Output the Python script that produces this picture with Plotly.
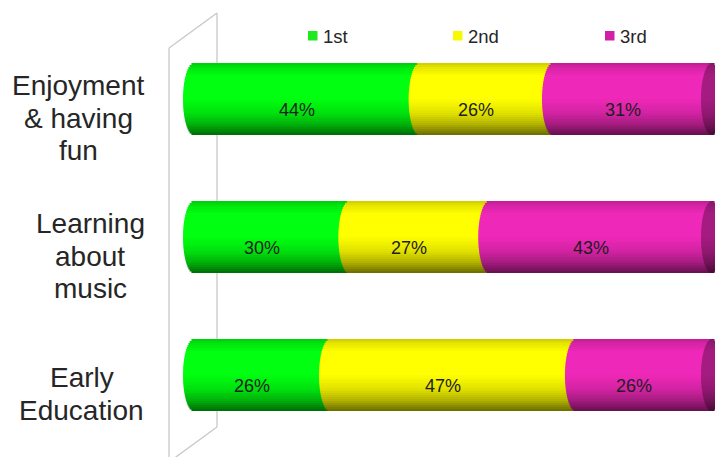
import numpy as np
import plotly.graph_objects as go

# ---------------- data ----------------
categories = ["Enjoyment & having fun", "Learning about music", "Early Education"]
label_lines = [["Enjoyment", "& having", "fun"], ["Learning", "about", "music"], ["Early", "Education"]]
series_names = ["1st", "2nd", "3rd"]
first = [44, 30, 26]
second = [26, 27, 47]
third = [31, 43, 26]

# ---------------- layout constants ----------------
W, H = 715, 457
X0_PX, X100_PX = 194, 712
PX_PER = (X100_PX - X0_PX) / 100.0
XR = [-X0_PX / PX_PER, 100 + (W - X100_PX) / PX_PER]
ROW_PX, TOP_CENTER = 138, 99
YR = [2 + (H - (TOP_CENTER + 2 * ROW_PX)) / ROW_PX, -TOP_CENTER / ROW_PX]
BAR_W = 72 / ROW_PX
BULGE = 11 / PX_PER
N = 36
FONT = "Liberation Sans, Arial, sans-serif"

base_cols = [(0, 255, 16), (255, 255, 0), (238, 40, 184)]
cap_col = (165, 28, 128)
legend_cols = ["#1ee81e", "#f8f800", "#d020a8"]

t_pts = [0, 0.06, 0.18, 0.5, 0.7, 0.85, 1.0]
f_pts = [0.80, 0.9, 1.0, 1.0, 0.88, 0.7, 0.42]


def shade(c, t):
    f = float(np.interp(t, t_pts, f_pts))
    return "rgb(%d,%d,%d)" % tuple(min(255, int(v * f)) for v in c)


series = [first, second, third]
totals = [sum(s[i] for s in series) for i in range(len(categories))]
norm = [[s[i] / totals[i] * 100 for i in range(len(categories))] for s in series]
starts = []
acc = [0.0] * len(categories)
for s in norm:
    starts.append(acc[:])
    acc = [a + v for a, v in zip(acc, s)]
ends = acc

fig = go.Figure()
dh = BAR_W / N
for j, s in enumerate(norm):
    for k in range(N):
        t = (k + 0.5) / N
        u = 2 * t - 1
        b = BULGE * np.sqrt(max(0.0, 1 - u * u))
        fig.add_trace(go.Bar(
            orientation="h", y=categories,
            base=[st - b for st in starts[j]],
            x=[v + b for v in s],
            offset=-BAR_W / 2 + k * dh,
            width=dh * (1.3 if k < N - 1 else 1.0),
            marker=dict(color=shade(base_cols[j], t), line=dict(width=0)),
            hoverinfo="skip", showlegend=False,
        ))
# right end face of the cylinders
for k in range(N):
    t = (k + 0.5) / N
    u = 2 * t - 1
    b = BULGE * np.sqrt(max(0.0, 1 - u * u))
    fig.add_trace(go.Bar(
        orientation="h", y=categories,
        base=[e - b for e in ends],
        x=[2 * b] * len(categories),
        offset=-BAR_W / 2 + k * dh,
        width=dh * (1.3 if k < N - 1 else 1.0),
        marker=dict(color=shade(cap_col, t), line=dict(width=0)),
        hoverinfo="skip", showlegend=False,
    ))

annotations = []
# value labels
for j, s in enumerate(series):
    for i, cat in enumerate(categories):
        annotations.append(dict(
            x=starts[j][i] + norm[j][i] / 2, y=cat, xref="x", yref="y",
            text=f"{s[i]}%", showarrow=False, xshift=-10, yshift=-11,
            font=dict(family=FONT, size=18, color="#1e1e1e"),
        ))

# category labels (one annotation per line, block centred per category)
group_cx = [78.5, 90, 81.5]
for i, cat in enumerate(categories):
    lines = label_lines[i]
    n = len(lines)
    for li, line in enumerate(lines):
        off = 19 + (li - (n - 1) / 2) * 32.5
        annotations.append(dict(
            x=group_cx[i] / W, y=cat, xref="paper", yref="y",
            text=line, showarrow=False, xanchor="center", yanchor="middle",
            yshift=-off, font=dict(family=FONT, size=28, color="#262626"),
        ))

shapes = []
# side wall
wall = [((169, 48), (169, 470)), ((217, 13), (217, 427)),
        ((169, 48), (217, 13)), ((169, 462), (217, 427))]
for (x1, y1), (x2, y2) in wall:
    shapes.append(dict(type="line", xref="paper", yref="paper",
                       x0=x1 / W, y0=1 - y1 / H, x1=x2 / W, y1=1 - y2 / H,
                       line=dict(color="#c8c8c8", width=1.3), layer="below"))

# legend (manual)
leg_sq = [308, 453, 605]
for name, col, sx in zip(series_names, legend_cols, leg_sq):
    shapes.append(dict(type="rect", xref="paper", yref="paper",
                       x0=sx / W, x1=(sx + 9.5) / W, y0=1 - 40.5 / H, y1=1 - 31 / H,
                       fillcolor=col, line=dict(width=0)))
    annotations.append(dict(
        x=(sx + 13) / W, y=1 - 36 / H, xref="paper", yref="paper",
        text=name, showarrow=False, xanchor="left", yanchor="middle",
        font=dict(family=FONT, size=18.5, color="#262626"),
    ))

fig.update_layout(
    width=W, height=H, margin=dict(l=0, r=0, t=0, b=0),
    paper_bgcolor="white", plot_bgcolor="white",
    barmode="overlay", showlegend=False,
    xaxis=dict(range=XR, showgrid=False, zeroline=False, showticklabels=False, fixedrange=True),
    yaxis=dict(range=YR, type="category", categoryorder="array", categoryarray=categories,
               showgrid=False, zeroline=False, showticklabels=False, fixedrange=True),
    annotations=annotations, shapes=shapes,
)
fig.write_html("out.html")
